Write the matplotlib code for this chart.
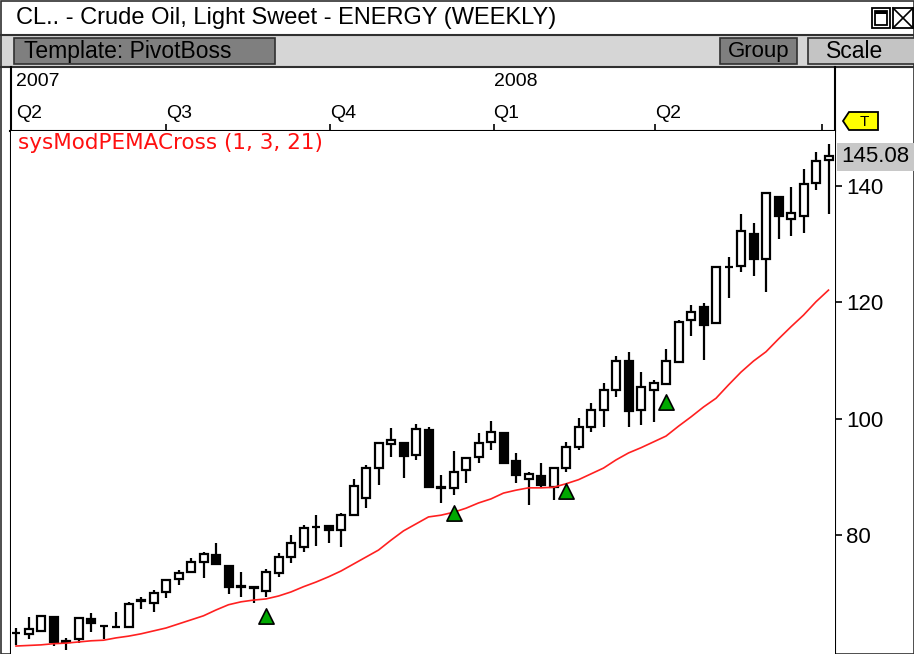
import matplotlib
matplotlib.use('Agg')
import matplotlib.pyplot as plt
from matplotlib import font_manager
from matplotlib.patches import Rectangle, Polygon

# weekly crude oil bars, Apr 2007 - Jul 2008
opens = [63.1, 63.0, 63.5, 65.9, 61.8, 62.1, 65.5, 64.4, 64.1, 64.2,
         68.6, 68.3, 70.2, 72.4, 73.6, 75.4, 76.6, 74.7, 71.2, 71.0,
         70.4, 73.5, 76.2, 77.9, 81.3, 81.5, 80.9, 83.4, 86.4, 91.5,
         95.6, 95.8, 93.7, 98.0, 88.2, 88.1, 91.2, 93.4, 96.0, 97.5,
         92.7, 89.6, 90.1, 88.2, 91.5, 95.1, 98.6, 101.5, 104.9, 109.9,
         101.5, 104.9, 106.0, 109.7, 117.0, 119.2, 116.4, 126.1, 126.2, 131.7,
         127.4, 138.1, 134.3, 134.8, 140.5, 144.5]
highs = [64.0, 65.9, 66.2, 66.1, 62.3, 65.9, 66.6, 64.6, 66.7, 68.5,
         69.3, 70.5, 72.4, 74.0, 76.0, 77.1, 78.6, 74.8, 73.6, 71.1,
         74.1, 76.9, 80.0, 81.7, 83.4, 81.5, 83.8, 89.6, 92.0, 96.0,
         98.4, 96.0, 99.1, 98.6, 90.3, 94.4, 93.4, 97.5, 99.6, 97.7,
         94.1, 90.8, 92.4, 91.5, 96.0, 100.1, 102.7, 106.1, 110.8, 111.5,
         108.0, 106.6, 112.0, 117.0, 119.5, 119.9, 126.2, 127.8, 135.2, 133.6,
         139.0, 138.1, 139.8, 142.9, 145.8, 147.2]
lows = [61.1, 62.1, 63.3, 60.9, 60.2, 61.4, 63.3, 62.1, 64.0, 64.0,
        67.3, 66.8, 69.2, 71.4, 73.5, 72.6, 74.8, 69.9, 69.3, 68.3,
        69.3, 72.8, 75.2, 77.1, 78.1, 78.6, 77.9, 83.4, 84.6, 88.6,
        93.4, 89.8, 92.9, 88.1, 85.5, 86.9, 88.9, 92.4, 94.6, 92.2,
        88.9, 85.2, 88.2, 86.0, 90.8, 94.6, 97.7, 98.6, 103.7, 98.6,
        98.9, 99.4, 106.0, 109.6, 114.2, 110.1, 116.3, 120.7, 125.2, 124.5,
        121.8, 130.9, 131.4, 131.9, 139.3, 135.2]
closes = [63.2, 63.8, 66.1, 61.6, 61.6, 65.7, 64.9, 64.3, 64.2, 68.1,
          68.8, 70.0, 72.3, 73.5, 75.3, 76.7, 75.0, 71.1, 71.1, 70.9,
          73.6, 76.2, 78.6, 81.2, 81.4, 80.9, 83.4, 88.4, 91.5, 95.8,
          96.3, 93.6, 98.2, 88.2, 88.1, 90.8, 93.2, 95.8, 97.7, 92.4,
          90.3, 90.5, 88.6, 91.5, 95.1, 98.6, 101.5, 104.9, 109.9, 101.3,
          105.4, 106.1, 109.9, 116.6, 118.3, 116.1, 126.1, 126.0, 132.3, 127.4,
          138.8, 134.8, 135.4, 140.3, 144.3, 145.08]
ema21 = [60.9, 61.0, 61.1, 61.3, 61.4, 61.6, 61.8, 61.9, 62.3, 62.6,
         63.0, 63.5, 64.0, 64.7, 65.4, 66.1, 67.1, 68.0, 68.5, 68.8,
         69.0, 69.5, 70.2, 71.1, 71.9, 72.8, 73.8, 75.0, 76.2, 77.4,
         79.1, 80.7, 81.9, 83.1, 83.4, 83.9, 84.6, 85.5, 86.2, 87.2,
         87.7, 88.1, 88.1, 88.2, 88.8, 89.5, 90.5, 91.5, 92.9, 94.1,
         95.0, 96.0, 97.0, 98.7, 100.3, 102.0, 103.5, 105.8, 108.0, 109.9,
         111.5, 113.7, 115.8, 117.8, 120.1, 122.1]
signal_bars = [20, 35, 44, 52]

years = ['2007', '2008']
year_pos = [0, 38.2]
quarters = ['Q2', 'Q3', 'Q4', 'Q1', 'Q2']
quarter_pos = [0, 12.0, 25.1, 38.2, 51.1]
tick_pos = [12.0, 25.1, 38.2, 51.1, 64.5]
price_ticks = [80, 100, 120, 140]
last_price = 145.08

names = {f.name for f in font_manager.fontManager.ttflist}
narrow = 'Liberation Sans Narrow' if 'Liberation Sans Narrow' in names else 'Liberation Sans'
plt.rcParams['font.family'] = 'Liberation Sans'

W, H = 914, 654
fig = plt.figure(figsize=(W / 100, H / 100), dpi=100)

# window chrome, drawn in pixel coordinates
bg = fig.add_axes([0, 0, 1, 1])
bg.set_xlim(0, W)
bg.set_ylim(H, 0)
bg.axis('off')
bg.add_patch(Rectangle((0, 35), W, 31, fc='#d6d6d6', ec='none'))
bg.add_patch(Rectangle((0.5, 0.5), W - 1, H - 1, fc='none', ec='#303030', lw=1.2))
bg.plot([0, W], [34.5, 34.5], color='#303030', lw=1.5)
bg.plot([0, W], [66.5, 66.5], color='#303030', lw=1.5)
bg.text(16, 18, 'CL.. - Crude Oil, Light Sweet - ENERGY (WEEKLY)', family=narrow,
        fontsize=17, va='center', ha='left')

bg.add_patch(Rectangle((872, 8), 18, 20, fc='white', ec='black', lw=1.3))
bg.add_patch(Rectangle((875, 11), 12, 14, fc='white', ec='black', lw=1.3))
bg.add_patch(Rectangle((875, 11), 12, 3, fc='black', ec='none'))
bg.add_patch(Rectangle((893, 8), 20, 20, fc='white', ec='black', lw=1.3))
bg.plot([893, 913], [8, 28], color='black', lw=1.2)
bg.plot([893, 913], [28, 8], color='black', lw=1.2)

bg.add_patch(Rectangle((14, 38), 261, 26, fc='#7f7f7f', ec='#303030', lw=1.2))
bg.text(24, 51.5, 'Template: PivotBoss', family=narrow, fontsize=16.5, va='center')
bg.add_patch(Rectangle((720, 38), 77, 26, fc='#7f7f7f', ec='#303030', lw=1.2))
bg.text(759, 51.5, 'Group', family=narrow, fontsize=16, va='center', ha='center')
bg.add_patch(Rectangle((808, 38), 110, 26, fc='#c4c4c4', ec='#303030', lw=1.2))
bg.text(826, 51.5, 'Scale', family=narrow, fontsize=16.5, va='center')

bg.plot([10.5, 10.5], [67, H], color='black', lw=1.5)
bg.plot([835, 835], [67, H], color='black', lw=1.5)
bg.plot([10, 835], [130.5, 130.5], color='black', lw=1.5)

bg.add_patch(Polygon([(843, 121), (849, 112), (878, 112), (878, 130), (849, 130)],
                     closed=True, fc='#ffff00', ec='black', lw=1.3))
bg.text(864, 121.5, 'T', fontsize=11, ha='center', va='center')

bg.add_patch(Rectangle((837, 143), 77, 28, fc='#c8c8c8', ec='none'))
bg.text(841, 157, f'{last_price:.2f}', fontsize=16, va='center')

# time axis strip
x0, x1 = -0.4, 65.52
ax_t = fig.add_axes([11 / W, 1 - 130 / H, 824 / W, 63 / H])
ax_t.set_xlim(x0, x1)
ax_t.set_ylim(63, 0)
ax_t.axis('off')
for lab, pos in zip(years, year_pos):
    ax_t.text(pos, 15, lab, family=narrow, fontsize=14, va='center', ha='left')
for lab, pos in zip(quarters, quarter_pos):
    ax_t.text(pos, 47, lab, family=narrow, fontsize=14, va='center', ha='left')
ax_t.vlines(tick_pos, 57, 63, color='black', lw=1.2)

# price panel
ax = fig.add_axes([11 / W, 0, 824 / W, 523 / H])
ax.set_xlim(x0, x1)
ax.set_ylim(59.53, 149.46)
for s in ax.spines.values():
    s.set_visible(False)
ax.set_xticks([])
ax.yaxis.tick_right()
ax.set_yticks(price_ticks)
ax.tick_params(axis='y', direction='out', length=5, width=1.2, pad=3, labelsize=16)
ax.set_facecolor('white')

idx = list(range(len(closes)))
ax.vlines(idx, lows, highs, color='black', lw=1.6, zorder=2)
for i in idx:
    o, c = opens[i], closes[i]
    fill = 'white' if c >= o else 'black'
    ax.bar(i, abs(c - o), bottom=min(o, c), width=0.64, color=fill,
           edgecolor='black', linewidth=1.6, zorder=3)

ax.plot(idx, ema21, color='#ff2020', lw=1.2, zorder=4)
ax.scatter(signal_bars, [lows[i] - 3.2 for i in signal_bars], marker='^', s=120,
           facecolor='#00a800', edgecolor='black', linewidth=1.2, zorder=5)

ax.text(0.008, 0.977, 'sysModPEMACross (1, 3, 21)', transform=ax.transAxes,
        color='#ff1010', fontsize=15.5, family='DejaVu Sans', va='center', ha='left')

fig.savefig('out.png', dpi=100)
